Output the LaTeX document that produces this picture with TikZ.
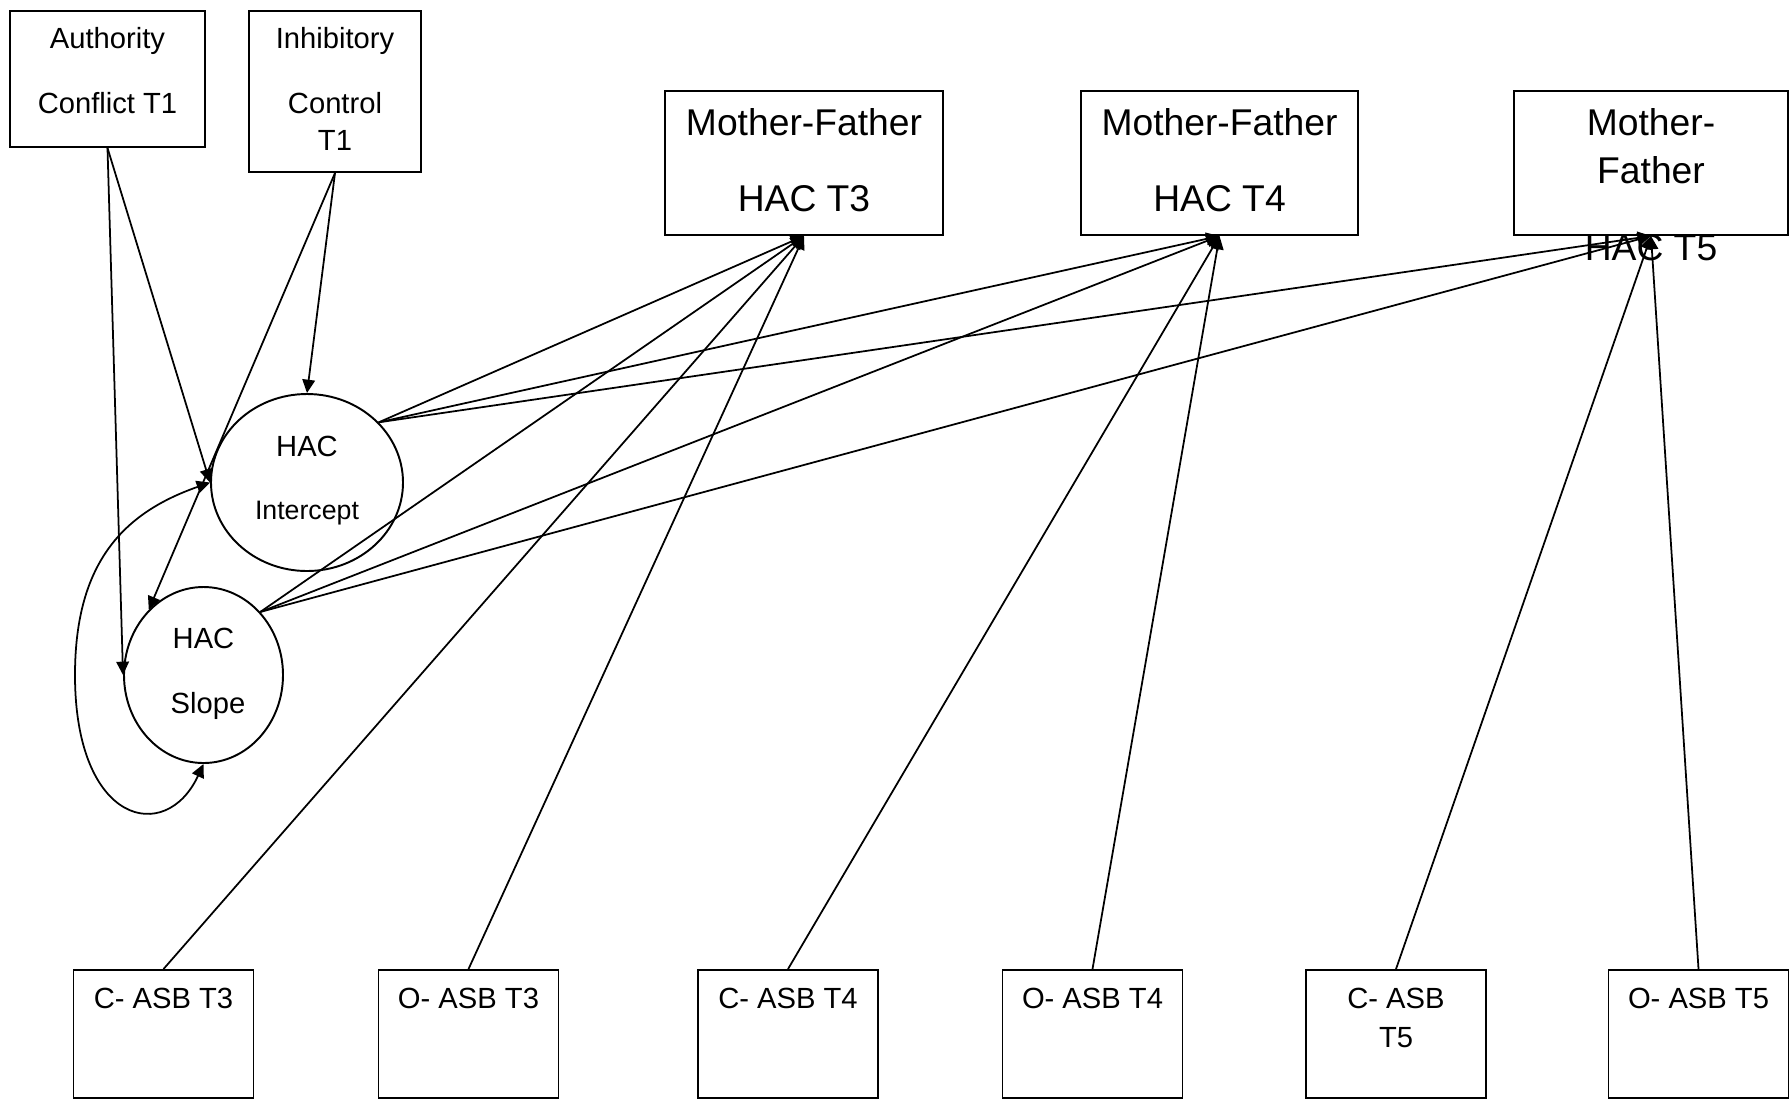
\documentclass[tikz,border=0pt]{standalone}
\usepackage{fontspec}
\setmainfont{Liberation Sans}
\usetikzlibrary{arrows.meta,shapes.geometric,calc}

\begin{document}
\begin{tikzpicture}

		\tikzstyle{box} = [draw=black, rectangle, line width=0.55pt, inner sep=0pt]
		\tikzstyle{latent} = [draw=black, ellipse, line width=0.55pt, inner sep=0pt]
		\tikzstyle{txt} = [anchor=base, inner sep=0pt, font=\fontsize{8.3}{10}\selectfont]
		\tikzstyle{smalltxt} = [anchor=base, inner sep=0pt, font=\fontsize{7.6}{9}\selectfont]
		\tikzstyle{bigtxt} = [anchor=base, inner sep=0pt, font=\fontsize{10.6}{13}\selectfont]
		\tikzstyle{pathline} = [-{Triangle[length=3.8pt, width=3.6pt]}, line width=0.5pt]
		\tikzstyle{covline} = [{Triangle[length=3.8pt, width=3.6pt]}-{Triangle[length=3.8pt, width=3.6pt]}, line width=0.5pt]

		\useasboundingbox (0,0) rectangle (17.9,-11.02);

		% predictors at T1
		\node[box, minimum width=1.95cm, minimum height=1.36cm] (auth) at (1.075,-0.79) {};
		\node[box, minimum width=1.72cm, minimum height=1.61cm] (inhib) at (3.35,-0.915) {};
		\node[txt] (auth_a) at ($(auth.north)+(0,-0.38)$) {Authority};
		\node[txt] (auth_b) at ($(auth.north)+(0,-1.03)$) {Conflict T1};
		\node[txt] (inhib_a) at ($(inhib.north)+(0,-0.38)$) {Inhibitory};
		\node[txt] (inhib_b) at ($(inhib.north)+(0,-1.03)$) {Control};
		\node[txt] (inhib_c) at ($(inhib.north)+(0,-1.40)$) {T1};

		% growth factors
		\node[latent, minimum width=1.92cm, minimum height=1.77cm] (hac_int) at (3.07,-4.825) {};
		\node[latent, minimum width=1.59cm, minimum height=1.76cm] (hac_slope) at (2.035,-6.75) {};
		\node[txt] (int_a) at ($(hac_int)+(0,0.265)$) {HAC};
		\node[smalltxt] (int_b) at ($(hac_int)+(0,-0.365)$) {Intercept};
		\node[txt] (slope_a) at ($(hac_slope)+(0,0.27)$) {HAC};
		\node[txt] (slope_b) at ($(hac_slope)+(0.045,-0.38)$) {Slope};
		\coordinate (cov_left) at (0.75,-6.75);

		% mother-father HAC
		\node[box, minimum width=2.78cm, minimum height=1.44cm] (mf_t3) at (8.04,-1.63) {};
		\node[box, minimum width=2.77cm, minimum height=1.44cm] (mf_t4) at (12.195,-1.63) {};
		\node[box, minimum width=2.74cm, minimum height=1.44cm] (mf_t5) at (16.51,-1.63) {};
		\node[bigtxt] (mf3_a) at ($(mf_t3.north)+(0,-0.455)$) {Mother-Father};
		\node[bigtxt] (mf3_b) at ($(mf_t3.north)+(0,-1.21)$) {HAC T3};
		\node[bigtxt] (mf4_a) at ($(mf_t4.north)+(0,-0.455)$) {Mother-Father};
		\node[bigtxt] (mf4_b) at ($(mf_t4.north)+(0,-1.21)$) {HAC T4};
		\node[bigtxt] (mf5_a) at ($(mf_t5.north)+(0,-0.455)$) {Mother-};
		\node[bigtxt] (mf5_b) at ($(mf_t5.north)+(0,-0.935)$) {Father};
		\node[bigtxt] (mf5_c) at ($(mf_t5.north)+(0,-1.70)$) {HAC T5};

		% child antisocial behaviour
		\foreach \n/\x in {c_t3/1.635, o_t3/4.685, c_t4/7.88, o_t4/10.925, c_t5/13.96, o_t5/16.985}
			\node[box, minimum width=1.8cm, minimum height=1.28cm] (\n) at (\x,-10.34) {};
		\foreach \n/\t in {c_t3/C- ASB T3, o_t3/O- ASB T3, c_t4/C- ASB T4, o_t4/O- ASB T4, c_t5/C- ASB, o_t5/O- ASB T5}
			\node[txt] (\n_lbl) at ($(\n.north)+(0,-0.39)$) {\t};
		\node[txt] (c_t5_lbl2) at ($(c_t5.north)+(0,-0.78)$) {T5};

		% paths
		\draw[pathline] (auth.south) -- (hac_int.west);
		\draw[pathline] (auth.south) -- (hac_slope.west);
		\draw[pathline] (inhib.south) -- (hac_int.north);
		\draw[pathline] (inhib.south) -- (hac_slope.130);

		\foreach \t in {mf_t3, mf_t4, mf_t5} {
			\draw[pathline] (hac_int.40) -- (\t.south);
			\draw[pathline] (hac_slope.48) -- (\t.south);
		}

		\draw[pathline] (c_t3.north) -- (mf_t3.south);
		\draw[pathline] (o_t3.north) -- (mf_t3.south);
		\draw[pathline] (c_t4.north) -- (mf_t4.south);
		\draw[pathline] (o_t4.north) -- (mf_t4.south);
		\draw[pathline] (c_t5.north) -- (mf_t5.south);
		\draw[pathline] (o_t5.north) -- (mf_t5.south);

		\draw[covline] (hac_int.west) .. controls (1.26,-5.12) and (0.75,-5.60) .. (cov_left)
			.. controls (0.75,-8.25) and (1.66,-8.45) .. (hac_slope.south);

	\end{tikzpicture}
\end{document}
